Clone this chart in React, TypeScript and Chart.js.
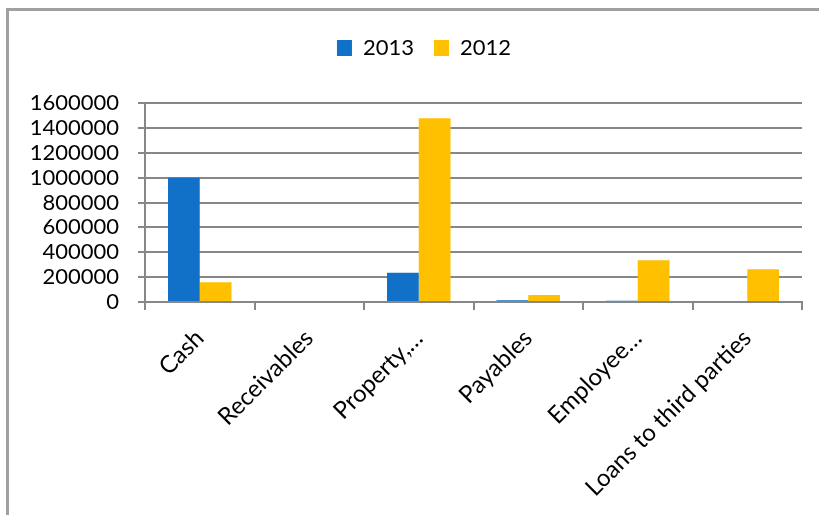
import React, { useEffect, useRef } from "react";
import { Chart, registerables } from "chart.js";

Chart.register(...registerables);

const categories = ["Cash", "Receivables", "Property,…", "Payables", "Employee…", "Loans to third parties"];
const values2013 = [1000000, 0, 235000, 15000, 10000, 0];
const values2012 = [158000, 0, 1478000, 56000, 335000, 263000];
const seriesNames = ["2013", "2012"];
const yTickMin = 0;
const yTickMax = 1600000;
const yTickStep = 200000;

const FONT = "Lato";
const GRID = "#878787";
const LEGEND_SHIFT = 23;

const legendShift = {
  id: "legendShift",
  afterLayout(chart: any) {
    if (chart.legend) {
      chart.legend.left += LEGEND_SHIFT;
      chart.legend.right += LEGEND_SHIFT;
    }
  },
};

export default function App() {
  const ref = useRef<HTMLCanvasElement | null>(null);

  useEffect(() => {
    if (!ref.current) return;
    const chart = new Chart(ref.current, {
      type: "bar",
      data: {
        labels: categories,
        datasets: [
          {
            label: seriesNames[0],
            data: values2013,
            backgroundColor: "#1170C8",
            xAxisID: "x",
            yAxisID: "y",
            categoryPercentage: 0.58,
            barPercentage: 1.0,
          },
          {
            label: seriesNames[1],
            data: values2012,
            backgroundColor: "#FFC000",
            xAxisID: "x",
            yAxisID: "y",
            categoryPercentage: 0.58,
            barPercentage: 1.0,
          },
        ],
      },
      plugins: [legendShift],
      options: {
        responsive: false,
        animation: false,
        layout: { padding: { top: 17, left: 0, right: 17, bottom: 0 } },
        plugins: {
          legend: {
            position: "top",
            labels: {
              boxWidth: 15,
              boxHeight: 16,
              padding: 20,
              color: "#000",
              font: { family: FONT, size: 22 },
            },
          },
          tooltip: { enabled: false },
        },
        scales: {
          x: {
            type: "category",
            position: "bottom",
            grid: {
              display: true,
              drawOnChartArea: false,
              drawTicks: true,
              tickLength: 8,
              color: GRID,
              lineWidth: 2,
              offset: true,
            },
            border: { display: true, color: GRID, width: 2 },
            ticks: {
              autoSkip: false,
              maxRotation: 45,
              minRotation: 45,
              padding: 14,
              color: "#000",
              font: { family: FONT, size: 24 },
            },
            afterFit: (s: any) => {
              s.height = 213;
            },
          },
          xTop: {
            type: "category",
            position: "top",
            grid: { display: false },
            border: { display: false },
            ticks: { display: false },
            afterFit: (s: any) => {
              s.height = 34;
            },
          },
          y: {
            type: "linear",
            position: "left",
            min: yTickMin,
            max: yTickMax,
            grid: {
              color: GRID,
              lineWidth: 2,
              drawTicks: true,
              tickLength: 7,
            },
            border: { display: true, color: GRID, width: 2 },
            ticks: {
              stepSize: yTickStep,
              autoSkip: false,
              padding: 19,
              color: "#000",
              font: { family: FONT, size: 22 },
              callback: (v: any) => String(v),
            },
            afterFit: (s: any) => {
              s.width = 145;
            },
          },
        },
      },
    });
    return () => chart.destroy();
  }, []);

  return (
    <div
      style={{
        position: "absolute",
        left: 0,
        top: 0,
        width: 819,
        height: 515,
        overflow: "hidden",
        background: "#fff",
      }}
    >
      <div
        style={{
          position: "absolute",
          left: 6,
          top: 8,
          width: 900,
          height: 600,
          borderTop: "3px solid #a0a0a0",
          borderLeft: "3px solid #a0a0a0",
        }}
      />
      <canvas ref={ref} width={819} height={515} style={{ position: "absolute", left: 0, top: 0 }} />
    </div>
  );
}
